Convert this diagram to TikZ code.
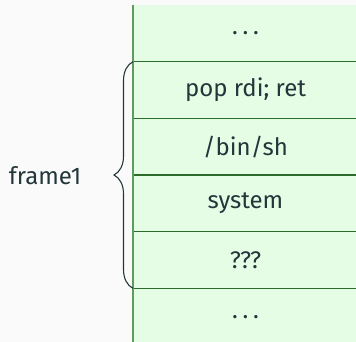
\documentclass[tikz,border=0pt]{standalone}
\usepackage{fontspec}
\setmainfont{Fira Sans}
\usetikzlibrary{decorations.pathreplacing}
\definecolor{bgc}{HTML}{FAFAFA}
\definecolor{ink}{HTML}{23373B}
\definecolor{cellfill}{HTML}{E5FCE5}
\definecolor{cellline}{HTML}{2B6B2B}
\definecolor{edgeline}{HTML}{5C9C5C}
\newcommand{\spaceddots}{.\kern0.2em.\kern0.2em.}
\begin{document}
\begin{tikzpicture}[x=1pt,y=-1pt,
  font=\fontsize{24}{29}\selectfont, text=ink,
  cell/.style={rectangle, fill=cellfill, minimum width=225pt,
    minimum height=56.67pt, inner sep=0pt, outer sep=0pt, anchor=north west},
  sepline/.style={cellline, line width=1.1pt},
  edge/.style={edgeline, line width=1.3pt},
  bracestyle/.style={ink, line width=1.1pt, decorate,
    decoration={brace, amplitude=19pt}}]
\fill[bgc] (0,0) rectangle (356,342);
\useasboundingbox (0,0) rectangle (356,342);
% stack cells, top to bottom
\node[cell] (r0) at (133,5) {\spaceddots};
\node[cell] (r1) at (r0.south west) {pop rdi; ret};
\node[cell] (r2) at (r1.south west) {/bin/sh};
\node[cell] (r3) at (r2.south west) {system};
\node[cell] (r4) at (r3.south west) {???};
\node[cell] (r5) at (r4.south west) {\spaceddots};
% separators between cells
\foreach \r in {r0,r1,r2,r3,r4}
  \draw[sepline] (\r.south west) -- (\r.south east);
% left edge of the stack
\draw[edge] (r0.north west) -- (r5.south west);
% frame brace and its label
\draw[bracestyle] (r4.south west) -- (r1.north west);
\node (lbl) at (45,176) {frame1};
\end{tikzpicture}
\end{document}
